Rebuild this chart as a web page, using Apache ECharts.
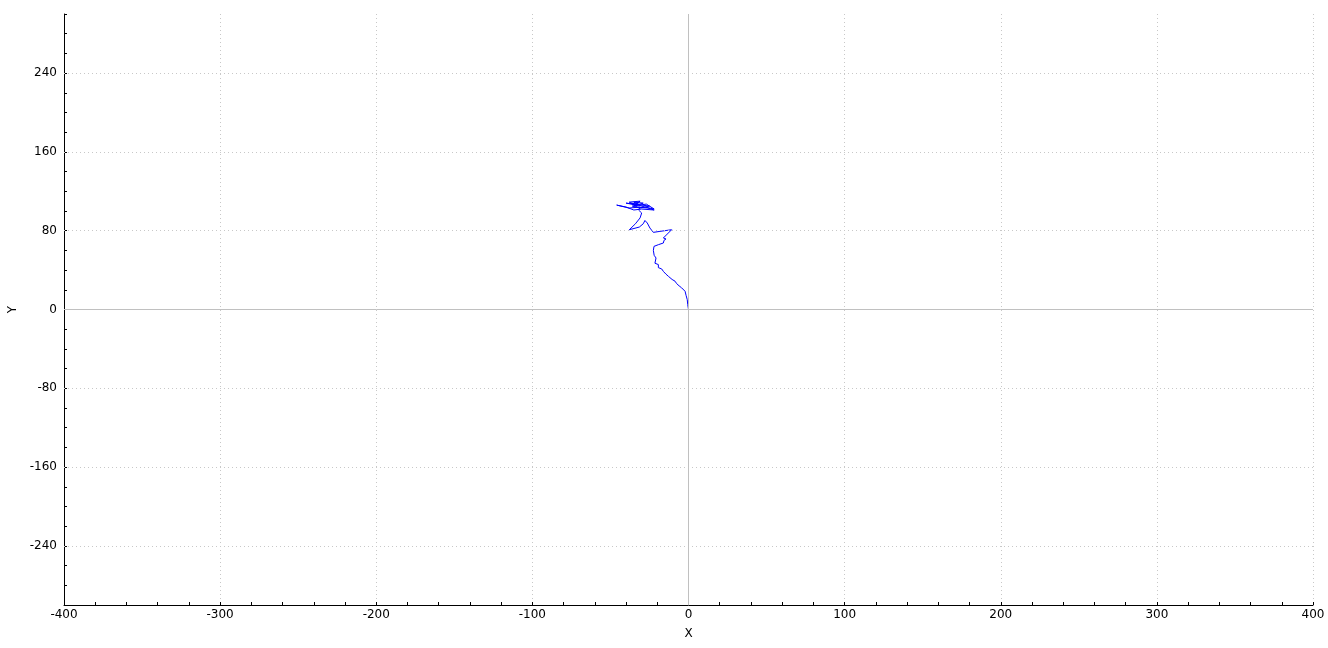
<!DOCTYPE html>
<html>
<head>
<meta charset="utf-8">
<script src="https://cdn.jsdelivr.net/npm/echarts@6/dist/echarts.min.js"></script>
<style>
html,body{margin:0;padding:0;background:#fff;}
#c{width:1328px;height:648px;}
</style>
</head>
<body>
<div id="c"></div>
<script>
const xValues = [0,-0.5,-0.8,-1.5,-2.2,-4.4,-6,-7.6,-8.6,-10.5,-12.9,-14.5,-16,-17.2,-19.3,-19.3,-21.5,-20.4,-20.8,-22,-21.5,-22.5,-22.1,-19.3,-16.1,-15.7,-14.4,-16.1,-15.1,-10.8,-18.3,-22.5,-23.6,-24.7,-26.4,-27.9,-29,-31.5,-37.9,-34,-31,-30,
  -32,-31,-38,-46,-40,-35,-30,-22,-26,-33,-37,-32,-35,-29,-33,-40,-30,-25,-31,-36,-27,-22,-28,-34,-31,-38,-33];
const yValues = [0,5,10,14,18.5,22,24,26.3,28.7,30.5,33.7,36,38.5,41.2,42.5,45.6,47,49,52.3,55,57,60,64.1,65.8,67.5,70.2,71.6,72.6,74.2,81,79.3,78.3,80.3,82.7,87.8,90.4,87,83.7,81,87,93,98,
  101,104,103,106,104,101,102,101,103,104,108,107,109,108,106,108,106,105,103,105,107,102,104,107,110,109,105];
const yLabelValues = [-240,-160,-80,0,80,160,240];
const yGridValues = [-240,-160,-80,80,160,240];

const points = xValues.map((x,i)=>[x,yValues[i]]);
const chart = echarts.init(document.getElementById('c'));
const font = 'DejaVu Sans';
chart.setOption({
  animation:false,
  backgroundColor:'#fff',
  grid:{left:64,right:15,top:14,bottom:43,containLabel:false,outerBoundsMode:'none'},
  xAxis:{
    type:'value',min:-400,max:400,interval:100,
    name:'X',nameLocation:'middle',nameGap:23,
    nameTextStyle:{color:'#000',fontSize:12,fontFamily:font},
    axisLine:{show:true,onZero:false,lineStyle:{color:'#000',width:1}},
    axisTick:{show:true,inside:true,length:3,lineStyle:{color:'#000'}},
    minorTick:{show:true,splitNumber:5,length:3,lineStyle:{color:'#000'}},
    axisLabel:{color:'#000',fontSize:12,fontFamily:font,margin:4},
    splitLine:{show:true,lineStyle:{color:'#c8c8c8',type:[1,3],width:1}}
  },
  yAxis:{
    type:'value',min:-300,max:300,interval:20,
    name:'Y',nameLocation:'middle',nameGap:44,
    nameTextStyle:{color:'#000',fontSize:12,fontFamily:font},
    axisLine:{show:true,onZero:false,lineStyle:{color:'#000',width:1}},
    axisTick:{show:true,inside:true,length:3,lineStyle:{color:'#000'}},
    axisLabel:{color:'#000',fontSize:12,fontFamily:font,margin:7,
      formatter:v=>yLabelValues.indexOf(v)>=0?String(v):''},
    splitLine:{show:false}
  },
  series:[
    {type:'line',data:[],silent:true,
     markLine:{silent:true,symbol:'none',label:{show:false},
       lineStyle:{color:'#c8c8c8',type:[1,3],width:1},
       data:yGridValues.map(v=>({yAxis:v}))}},
    {type:'line',data:[],silent:true,
     markLine:{silent:true,symbol:'none',label:{show:false},
       lineStyle:{color:'#c0c0c0',type:'solid',width:1},
       data:[{xAxis:0},{yAxis:0}]}},
    {type:'line',data:points,showSymbol:false,smooth:false,
     lineStyle:{color:'#0000ff',width:1},itemStyle:{color:'#0000ff'}}
  ]
});
</script>
</body>
</html>
